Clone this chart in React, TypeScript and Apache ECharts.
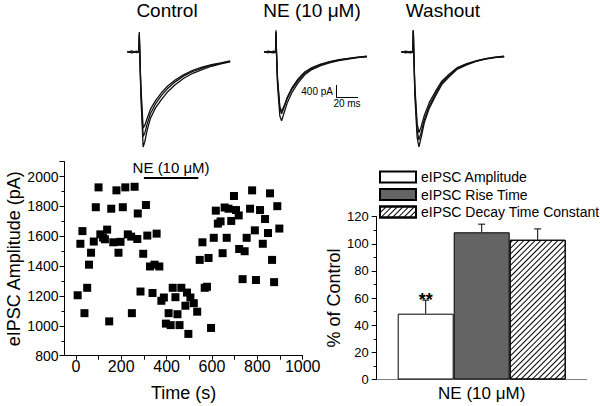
import React, { useEffect, useRef } from "react";
import * as echarts from "echarts";

const FONT = "Arial, 'Liberation Sans', Helvetica, sans-serif";

// ---------- Top panels: eIPSC sweeps (time in ms, current in pA) ----------
const TRACE_TITLES = ["Control", "NE (10 μM)", "Washout"];
const TRACE_TIME_MS = [0, 4, 8.5, 10.5, 10.9, 11.3, 12.3, 14.4, 16, 18, 21, 25.5, 31, 37, 43.5, 51, 59.5, 68, 76.5, 85, 93.5];
const CONTROL_SWEEP_1 = [25, -30, 15, 0, 665, 125, -1425, -3165, -2975, -2610, -2215, -1870, -1585, -1315, -1090, -885, -710, -585, -475, -395, -330];
const CONTROL_SWEEP_2 = [-15, 40, -25, 15, 600, 65, -1265, -2820, -2690, -2405, -2060, -1740, -1455, -1205, -995, -805, -650, -540, -445, -380, -315];
const CONTROL_SWEEP_3 = [15, -15, 30, -15, 540, 0, -1110, -2535, -2440, -2215, -1915, -1630, -1360, -1125, -935, -760, -615, -505, -425, -365, -300];
const NE_SWEEP_1 = [15, -25, 30, 0, 730, 95, -1110, -2135, -2295, -2060, -1710, -1345, -1030, -760, -585, -460, -365, -285, -235, -190, -160];
const NE_SWEEP_2 = [-15, 30, -15, 15, 665, 50, -950, -1900, -2060, -1870, -1565, -1235, -950, -710, -555, -425, -340, -270, -220, -180, -150];
const NE_SWEEP_3 = [10, 0, -30, -10, 635, 0, -870, -1820, -1980, -1820, -1520, -1185, -900, -665, -520, -410, -325, -255, -215, -175, -140];
const WASH_SWEEP_1 = [15, -30, 25, 0, 825, 160, -1425, -2850, -3165, -2850, -2345, -1870, -1470, -1075, -825, -570, -430, -315, -235, -190, -160];
const WASH_SWEEP_2 = [-15, 30, -15, 15, 745, 95, -1265, -2610, -2930, -2690, -2250, -1790, -1395, -1015, -775, -540, -405, -300, -230, -180, -150];
const WASH_SWEEP_3 = [10, -10, -25, -10, 680, 30, -1110, -2375, -2690, -2500, -2105, -1680, -1315, -965, -745, -520, -390, -295, -220, -175, -140];
const SCALE_BAR_PA = 400;
const SCALE_BAR_MS = 20;
const SCALE_BAR_ORIGIN = [65.5, -1500];

// ---------- Scatter: eIPSC amplitude over time ----------
const TIME_S = [
  8, 20, 29, 38, 50, 58, 67, 79, 88, 100, 108, 120, 128, 138, 147, 156, 165, 179, 188, 197,
  207, 218, 229, 244, 247, 259, 271, 273, 285, 297, 309, 315, 327, 338, 347, 356, 368,
  377, 388, 397, 409, 418, 427, 439, 448, 457, 465, 483, 490, 496, 505, 520, 535, 546, 558,
  568, 578, 585, 596, 608, 617, 626, 638, 647, 656, 665, 673, 685, 697, 706, 718, 720, 735,
  744, 753, 768, 777, 789, 794, 812, 824, 834, 847, 856, 865, 874, 888, 897,
];
const AMPLITUDE_PA = [
  1205, 1550, 1635, 1085, 1255, 1410, 1490, 1565, 1795, 1928, 1613, 1592, 1580, 1645, 1030, 1785, 1560, 1908, 1490, 1563,
  1795, 1928, 1613, 1598, 1085, 1932, 1582, 1753, 1230, 1483, 1810, 1605, 1398, 1220, 1410, 1618, 1398,
  1168, 1190, 1015, 1085, 1005, 1255, 1192, 1078, 1005, 1255, 1135, 1223, 946, 1190, 1152, 1095, 1442, 1560,
  1255, 1262, 1455, 986, 1590, 1772, 1685, 1700, 1487, 1793, 1590, 1785, 1703, 1870, 1776, 1740, 1515, 1313,
  1500, 1590, 1785, 1908, 1640, 1307, 1776, 1550, 1716, 1622, 1888, 1442, 1293, 1802, 1652,
];
const NE_START_S = 300;
const NE_END_S = 540;
const NE_BAR_PA = 1990;
const NE_LABEL = "NE (10 μM)";
const SCATTER_X_TICKS = [0, 200, 400, 600, 800, 1000];
const SCATTER_X_MINOR = [0, 100, 200, 300, 400, 500, 600, 700, 800, 900, 1000];

// ---------- Bars: % of control ----------
const BAR_CATEGORIES = ["NE (10 μM)"];
const BAR_NAMES = ["eIPSC Amplitude", "eIPSC Rise Time", "eIPSC Decay Time Constant"];
const BAR_VALUES = [48.5, 108.5, 103];
const BAR_ERRORS = [10, 6, 8];
const BAR_MARKS = ["**", "", ""];

const textBase = { fontFamily: FONT, color: "#000" };
const plain = (v: number) => String(v);

export default function App() {
  const ref = useRef<HTMLDivElement>(null);

  useEffect(() => {
    if (!ref.current) return;
    const chart = echarts.init(ref.current, undefined, { renderer: "svg" });

    const traceLefts = [127.3, 264, 401.3];
    const traceCenters = [167, 312, 443];
    const sweeps = [
      [CONTROL_SWEEP_1, CONTROL_SWEEP_2, CONTROL_SWEEP_3],
      [NE_SWEEP_1, NE_SWEEP_2, NE_SWEEP_3],
      [WASH_SWEEP_1, WASH_SWEEP_2, WASH_SWEEP_3],
    ];

    const grids: any[] = traceLefts.map((l) => ({ left: l, top: 31, width: 105.6, height: 126 }));
    grids.push({ left: 64.5, top: 161.7, width: 238.2, height: 194 });
    grids.push({ left: 376.7, top: 216.7, width: 210, height: 162.8 });

    const xAxes: any[] = traceLefts.map((_, i) => ({ type: "value", gridIndex: i, min: 0, max: 96, show: false }));
    const yAxes: any[] = traceLefts.map((_, i) => ({ type: "value", gridIndex: i, min: -3500, max: 700, show: false }));

    xAxes.push({
      type: "value",
      gridIndex: 3,
      min: -50,
      max: 1000,
      name: "Time (s)",
      nameLocation: "middle",
      nameGap: 28,
      nameTextStyle: { ...textBase, fontSize: 18 },
      axisLine: { show: true, onZero: false, lineStyle: { color: "#000", width: 1 } },
      axisTick: { show: true, length: 4, customValues: SCATTER_X_MINOR, lineStyle: { color: "#000" } },
      axisLabel: { ...textBase, fontSize: 16, margin: 3, customValues: SCATTER_X_TICKS, formatter: plain },
      splitLine: { show: false },
    });
    yAxes.push({
      type: "value",
      gridIndex: 3,
      min: 800,
      max: 2100,
      interval: 200,
      name: "eIPSC Amplitude (pA)",
      nameLocation: "middle",
      nameGap: 42,
      nameTextStyle: { ...textBase, fontSize: 18 },
      axisLine: { show: true, onZero: false, lineStyle: { color: "#000", width: 1 } },
      axisTick: { show: true, length: 5, lineStyle: { color: "#000" } },
      minorTick: { show: true, splitNumber: 2, length: 3, lineStyle: { color: "#000" } },
      axisLabel: { ...textBase, fontSize: 14, margin: 6, showMaxLabel: false, formatter: plain },
      splitLine: { show: false },
    });

    xAxes.push({
      type: "category",
      gridIndex: 4,
      data: BAR_CATEGORIES,
      axisLine: { show: true, lineStyle: { color: "#808080", width: 1 } },
      axisTick: { show: false },
      axisLabel: { ...textBase, fontSize: 17, margin: 5 },
    });
    yAxes.push({
      type: "value",
      gridIndex: 4,
      min: 0,
      max: 120,
      interval: 20,
      name: "% of Control",
      nameLocation: "middle",
      nameGap: 30,
      nameTextStyle: { ...textBase, fontSize: 18 },
      axisLine: { show: true, lineStyle: { color: "#000", width: 1 } },
      axisTick: { show: true, length: 5, lineStyle: { color: "#000" } },
      minorTick: { show: true, splitNumber: 2, length: 3, lineStyle: { color: "#000" } },
      axisLabel: { ...textBase, fontSize: 13, margin: 8, formatter: plain },
      splitLine: { show: false },
    });

    const series: any[] = [];
    sweeps.forEach((group, gi) => {
      group.forEach((sw, si) => {
        const s: any = {
          type: "line",
          xAxisIndex: gi,
          yAxisIndex: gi,
          data: TRACE_TIME_MS.map((t, k) => [t, sw[k]]),
          showSymbol: false,
          symbol: "none",
          silent: true,
          lineStyle: { color: "#111", width: 1.3 },
          z: 2,
        };
        if (gi === 1 && si === 0) {
          const [t0, v0] = SCALE_BAR_ORIGIN;
          s.markLine = {
            silent: true,
            symbol: ["none", "none"],
            label: { show: false },
            lineStyle: { color: "#000", width: 1, type: "solid" },
            data: [
              [{ coord: [t0, v0] }, { coord: [t0, v0 + SCALE_BAR_PA] }],
              [{ coord: [t0, v0] }, { coord: [t0 + SCALE_BAR_MS, v0] }],
            ],
          };
        }
        series.push(s);
      });
    });

    series.push({
      type: "scatter",
      xAxisIndex: 3,
      yAxisIndex: 3,
      symbol: "rect",
      symbolSize: 8,
      itemStyle: { color: "#000", opacity: 1 },
      data: TIME_S.map((t, i) => [t, AMPLITUDE_PA[i]]),
      markLine: {
        silent: true,
        symbol: ["none", "none"],
        lineStyle: { color: "#000", width: 2, type: "solid" },
        label: { show: true, position: "middle", formatter: NE_LABEL, fontSize: 15, distance: 3, ...textBase },
        data: [[{ coord: [NE_START_S, NE_BAR_PA] }, { coord: [NE_END_S, NE_BAR_PA] }]],
      },
    });

    const barStyles: any[] = [
      { color: "#fff", borderColor: "#000", borderWidth: 1 },
      { color: "#646464", borderColor: "#000", borderWidth: 1 },
      {
        color: "#fff",
        borderColor: "#000",
        borderWidth: 1,
        decal: {
          symbol: "rect",
          symbolSize: 1,
          color: "#000",
          backgroundColor: "#fff",
          dashArrayX: [1, 0],
          dashArrayY: [1, 2.8],
          rotation: -Math.PI / 4,
        },
      },
    ];
    BAR_NAMES.forEach((name, i) => {
      series.push({
        type: "bar",
        name,
        xAxisIndex: 4,
        yAxisIndex: 4,
        data: [BAR_VALUES[i]],
        barGap: "0%",
        barCategoryGap: "20%",
        itemStyle: barStyles[i],
      });
    });

    series.push({
      type: "custom",
      xAxisIndex: 4,
      yAxisIndex: 4,
      z: 5,
      silent: true,
      data: BAR_VALUES.map((v, i) => [0, v, BAR_ERRORS[i], i]),
      renderItem: (params: any, api: any) => {
        const idx = api.value(3);
        const val = api.value(1);
        const err = api.value(2);
        const base = api.coord([api.value(0), val]);
        const top = api.coord([api.value(0), val + err]);
        const band = api.size([1, 0])[0];
        const barW = (band * 0.8) / 3;
        const x = base[0] + (idx - 1) * barW;
        const children: any[] = [
          { type: "line", shape: { x1: x, y1: base[1], x2: x, y2: top[1] }, style: { stroke: "#000", lineWidth: 1 } },
          { type: "line", shape: { x1: x - 3.5, y1: top[1], x2: x + 3.5, y2: top[1] }, style: { stroke: "#000", lineWidth: 1 } },
        ];
        const mark = BAR_MARKS[idx];
        if (mark) {
          children.push({
            type: "text",
            x,
            y: top[1],
            style: { text: mark, align: "center", verticalAlign: "middle", fontSize: 18, fontWeight: "bold", fontFamily: FONT, fill: "#000" },
          });
        }
        return { type: "group", children };
      },
    });

    const graphic: any[] = TRACE_TITLES.map((t, i) => ({
      type: "text",
      x: traceCenters[i],
      y: 1,
      style: { text: t, align: "center", verticalAlign: "top", fontSize: 19, fontFamily: FONT, fill: "#000" },
    }));
    graphic.push({
      type: "text",
      x: 333,
      y: 91,
      style: { text: `${SCALE_BAR_PA} pA`, align: "right", verticalAlign: "middle", fontSize: 10, fontFamily: FONT, fill: "#000" },
    });
    graphic.push({
      type: "text",
      x: 347,
      y: 103.5,
      style: { text: `${SCALE_BAR_MS} ms`, align: "center", verticalAlign: "middle", fontSize: 10, fontFamily: FONT, fill: "#000" },
    });

    chart.setOption({
      animation: false,
      backgroundColor: "#fff",
      textStyle: { fontFamily: FONT },
      grid: grids,
      xAxis: xAxes,
      yAxis: yAxes,
      legend: {
        data: BAR_NAMES,
        orient: "vertical",
        left: 379,
        top: 170,
        padding: 0,
        itemWidth: 36,
        itemHeight: 11,
        itemGap: 3.5,
        icon: "rect",
        selectedMode: false,
        textStyle: { ...textBase, fontSize: 14, lineHeight: 14 },
      },
      graphic,
      series,
    });

    return () => chart.dispose();
  }, []);

  return <div ref={ref} style={{ position: "fixed", left: 0, top: 0, width: 600, height: 406 }} />;
}
